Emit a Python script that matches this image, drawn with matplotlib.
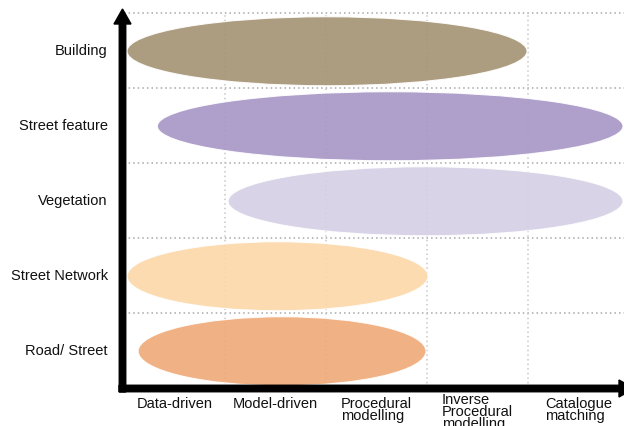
import matplotlib
matplotlib.use('Agg')
import matplotlib.pyplot as plt
from matplotlib.patches import Ellipse, FancyArrow

plt.rcParams['font.family'] = ['Liberation Sans', 'DejaVu Sans']

# ── Data ──────────────────────────────────────────────────────────────────────
methods = ['Data-driven', 'Model-driven', 'Procedural\nmodelling',
           'Inverse\nProcedural\nmodelling', 'Catalogue\nmatching']
features = ['Road/ Street', 'Street Network', 'Vegetation', 'Street feature', 'Building']
span_start = [0.14, 0.03, 1.03, 0.33, 0.03]   # in method columns
span_end   = [2.99, 3.01, 4.94, 4.94, 3.99]
colors = ['#efa977', '#fcd8a9', '#d4cfe5', '#a795c6', '#a49372']

fig = plt.figure(figsize=(6.24, 4.27), dpi=100)
fig.patch.set_facecolor('white')
ax = fig.add_axes([124/624, 38/427, 500/624, 375/427])
ax.set_xlim(0, 4.95)
ax.set_ylim(0, 5)
ax.axis('off')

# ── Dotted grid ───────────────────────────────────────────────────────────────
for yy in range(1, len(features) + 1):
    ax.plot([0, 4.95], [yy, yy], color='#a8a8a8', lw=1.1,
            linestyle=(0, (1, 2)), clip_on=False, zorder=1)
for xx in range(1, len(methods)):
    ax.plot([xx, xx], [0, 5], color='#c8c8c8', lw=1.1,
            linestyle=(0, (1, 2)), clip_on=False, zorder=1)

# ── Ellipses ──────────────────────────────────────────────────────────────────
for i, (s, e, c) in enumerate(zip(span_start, span_end, colors)):
    el = Ellipse(((s + e) / 2, i + 0.49), e - s, 0.92, facecolor=c,
                 edgecolor='white', lw=0.8, alpha=0.9, zorder=2)
    ax.add_patch(el)

# ── Labels ────────────────────────────────────────────────────────────────────
for i, name in enumerate(features):
    ax.text(-0.16, i + 0.5, name, ha='right', va='center', fontsize=10.5,
            color='#111')
for j, name in enumerate(methods):
    yoff = -0.06 if name.count('\n') == 2 else -0.11
    ax.text(j + 0.5, yoff, name, ha='center', va='top', multialignment='left',
            fontsize=10.5, linespacing=0.78, color='#111', clip_on=False)

# ── Axis arrows (inches from figure bottom-left) ──────────────────────────────
tr = fig.dpi_scale_trans
fig.add_artist(FancyArrow(1.225, 0.34, 0, 3.83, width=0.065, head_width=0.17,
                          head_length=0.15, length_includes_head=True,
                          color='black', transform=tr))
fig.add_artist(FancyArrow(1.19, 0.375, 5.15, 0, width=0.065, head_width=0.17,
                          head_length=0.15, length_includes_head=True,
                          color='black', transform=tr))

plt.savefig('out.png', dpi=100, facecolor='white')
